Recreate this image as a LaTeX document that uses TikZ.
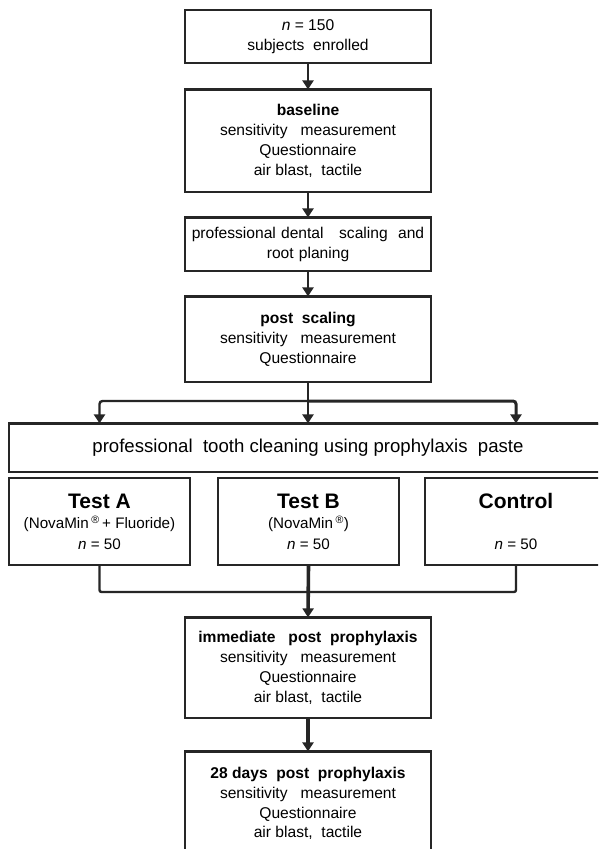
\documentclass[tikz,border=0pt]{standalone}
\usepackage{fontspec}
\setmainfont{Liberation Sans}
\usetikzlibrary{arrows.meta}
\tikzset{
  box/.style={draw=black!85, line width=1.2pt, rectangle, align=center, inner sep=0pt,
    font=\fontsize{15.6}{19.8}\selectfont},
  conn/.style={draw=black!85, line width=2.4pt},
  tip/.style={-{Triangle[length=9pt,width=11pt]}},
  topedge/.style={draw=black!85, line width=2.8pt},
  grp/.style={box, minimum width=181pt, minimum height=87pt, font=\fontsize{15.2}{20.5}\selectfont},
  grptitle/.style={font=\fontsize{21}{22}\selectfont\bfseries},
}
\begin{document}
\begin{tikzpicture}[x=1pt,y=-1pt]
\path[use as bounding box, clip] (0,0) rectangle (598,849);
\fill[white] (0,0) rectangle (598,849);
% boxes
\node[box, minimum width=246pt, minimum height=53pt] (b1) at (308,36.5)
  {\textit{n} = 150\\subjects\ \ enrolled};
\node[box, minimum width=246pt, minimum height=102pt] (b2) at (308,141)
  {\textbf{baseline}\\sensitivity\ \ \ measurement\\Questionnaire\\air blast,\ \ tactile};
\node[box, minimum width=246pt, minimum height=53pt, text width=244pt] (b3) at (308,244.5)
  {professional dental\ \ \ scaling\ \ and\\root\ planing};
\node[box, minimum width=246pt, minimum height=85pt] (b4) at (308,339.5)
  {\textbf{post\ \ scaling}\\sensitivity\ \ \ measurement\\Questionnaire};
\node[box, minimum width=598pt, minimum height=48pt, font=\fontsize{18.6}{20}\selectfont] (clean) at (308,448)
  {professional\ \ tooth cleaning\ using\ prophylaxis\ \ paste};
\node[grp] (A) at (99.5,521.5)
  {{\fontsize{21}{22}\selectfont\bfseries Test A}\\(NovaMin\,\textsuperscript{\textregistered}\,+ Fluoride)\\\textit{n} = 50};
\node[grp] (B) at (308.5,521.5)
  {{\fontsize{21}{22}\selectfont\bfseries Test B}\\(NovaMin\,\textsuperscript{\textregistered})\\\textit{n} = 50};
\node[grp, minimum width=182pt] (C) at (516,521.5)
  {{\fontsize{21}{22}\selectfont\bfseries Control}\\\strut\\\textit{n} = 50};
\node[box, minimum width=246pt, minimum height=100pt] (imm) at (308,668)
  {\textbf{immediate\ \ \ post\ \ prophylaxis}\\sensitivity\ \ \ measurement\\Questionnaire\\air blast,\ \ tactile};
\node[box, minimum width=246pt, minimum height=103pt] (d28) at (308,803.5)
  {\textbf{28 days\ \ post\ \ prophylaxis}\\sensitivity\ \ \ measurement\\Questionnaire\\air blast,\ \ tactile};
% thick top edges of receiving boxes
\foreach \n in {b2,b3,b4,clean,imm,d28}
  \draw[topedge] (\n.north west) -- (\n.north east);
% coordinates
\coordinate (br) at (308,401);
\coordinate (mg) at (308,592);
% connectors
\draw[conn,tip] (b1.south) -- (b2.north);
\draw[conn,tip] (b2.south) -- (b3.north);
\draw[conn,tip] (b3.south) -- (b4.north);
\draw[conn,tip] (b4.south) -- (clean.north);
\draw[conn,tip,rounded corners=3pt] (br) -| (clean.north -| A.north);
\draw[conn,tip,rounded corners=3pt,line width=3pt] (br) -| (clean.north -| C.north);
\draw[conn,rounded corners=2pt] (A.south) |- (mg) -| (C.south);
\draw[conn,line width=3.6pt,tip] (B.south) -- (imm.north);
\draw[conn,line width=4.5pt,tip] (imm.south) -- (d28.north);
\end{tikzpicture}
\end{document}
